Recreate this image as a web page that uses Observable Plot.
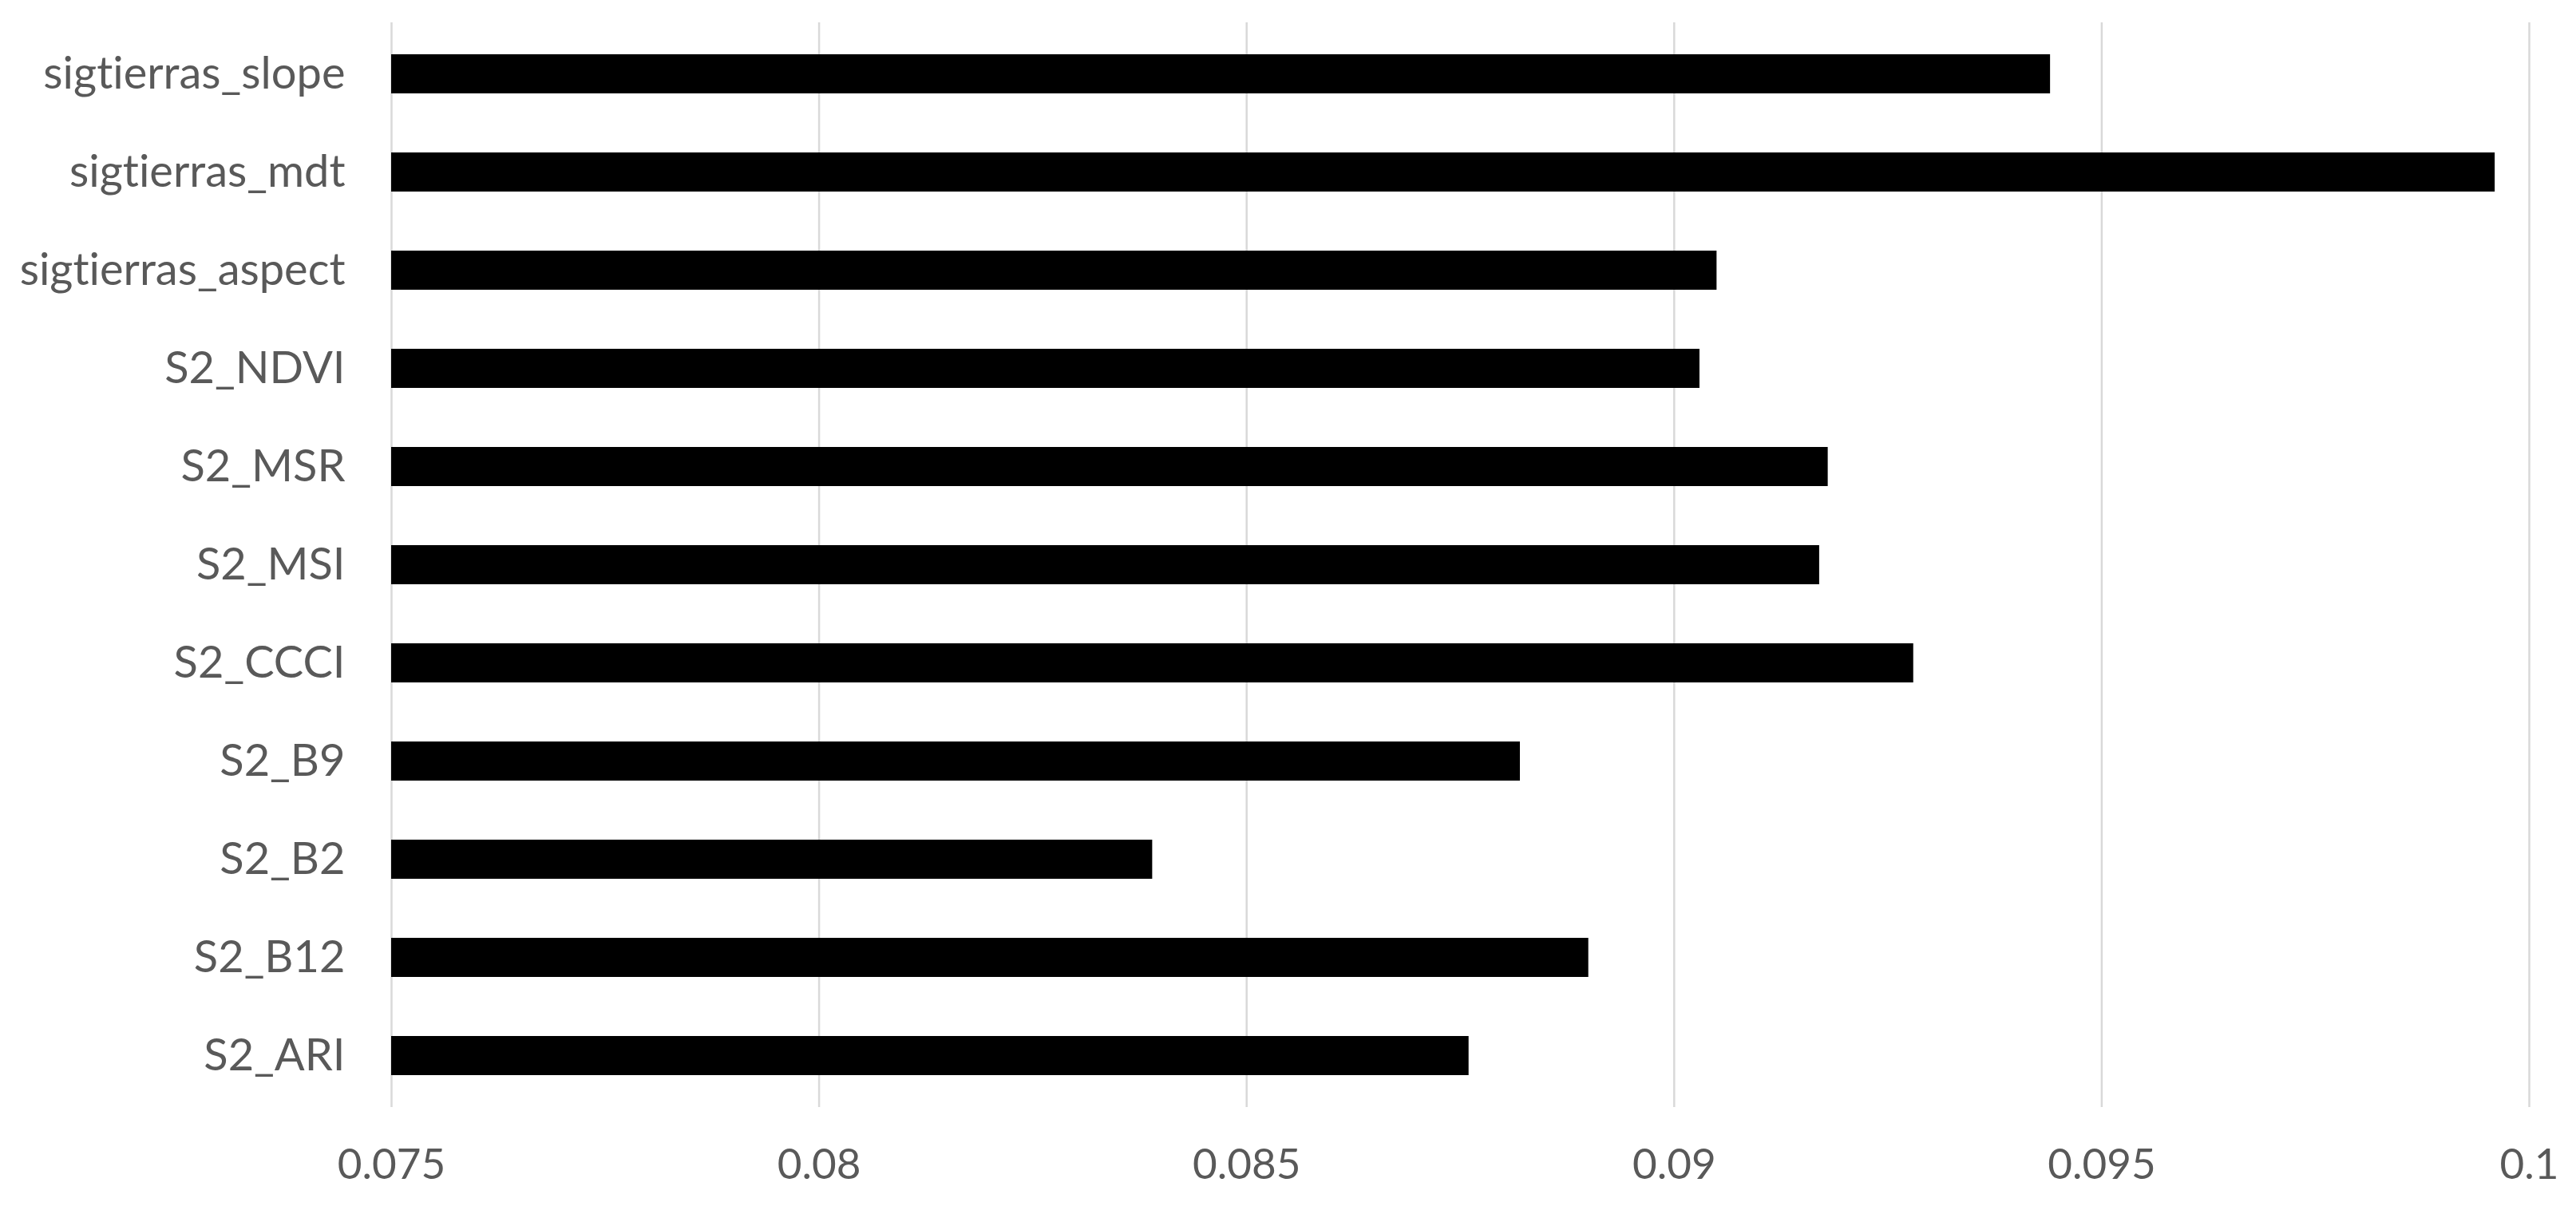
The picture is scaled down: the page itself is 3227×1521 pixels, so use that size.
<!DOCTYPE html>
<html>
<head>
<meta charset="utf-8">
<script src="https://cdn.jsdelivr.net/npm/d3@7"></script>
<script src="https://cdn.jsdelivr.net/npm/@observablehq/plot@0.6"></script>
<style>
  html, body { margin: 0; padding: 0; background: #ffffff; }
  #chart svg { display: block; font-variant-ligatures: none; }
</style>
</head>
<body>
<div id="chart"></div>
<script>
const categories = [
  "sigtierras_slope",
  "sigtierras_mdt",
  "sigtierras_aspect",
  "S2_NDVI",
  "S2_MSR",
  "S2_MSI",
  "S2_CCCI",
  "S2_B9",
  "S2_B2",
  "S2_B12",
  "S2_ARI"
];
const values = [0.0944, 0.0996, 0.0905, 0.0903, 0.0918, 0.0917, 0.0928, 0.0882, 0.0839, 0.0890, 0.0876];
const tickValues = [0.075, 0.08, 0.085, 0.09, 0.095, 0.1];
const tickLabels = ["0.075", "0.08", "0.085", "0.09", "0.095", "0.1"];
const baseline = 0.075;

const data = categories.map((name, i) => ({ name, value: values[i] }));
const labelOf = new Map(tickValues.map((t, i) => [t, tickLabels[i]]));

const chart = Plot.plot({
  width: 3227,
  height: 1521,
  marginLeft: 490,
  marginRight: 59,
  marginTop: 28,
  marginBottom: 134,
  style: { fontFamily: "Lato, 'Open Sans', sans-serif", fontSize: "54px", color: "#595959", background: "#ffffff" },
  x: { domain: [0.075, 0.1], ticks: tickValues, tickFormat: d => labelOf.get(d), label: null },
  y: { domain: categories, paddingInner: 0.6, paddingOuter: 0.3, label: null },
  marks: [
    Plot.gridX(tickValues, { stroke: "#d9d9d9", strokeOpacity: 1, strokeWidth: 2.5 }),
    Plot.barX(data, { y: "name", x1: baseline, x2: "value", fill: "#000000" }),
    Plot.axisX({ ticks: tickValues, tickFormat: d => labelOf.get(d), tickSize: 0, tickPadding: 52, fill: "#595959", fontSize: 53, label: null }),
    Plot.axisY({ tickSize: 0, tickPadding: 58, fill: "#595959", fontSize: 56, label: null })
  ]
});
document.getElementById("chart").appendChild(chart);
</script>
</body>
</html>
